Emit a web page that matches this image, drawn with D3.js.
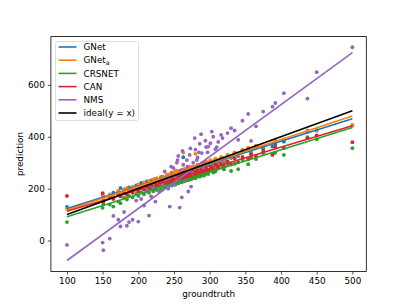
<!DOCTYPE html>
<html>
<head>
<meta charset="utf-8">
<script src="https://cdn.jsdelivr.net/npm/d3@7"></script>
<style>
  body { margin: 0; background: #fff; }
  svg { font-family: "DejaVu Sans", sans-serif; }
</style>
</head>
<body>
<div id="chart"></div>
<script>
// ground truth counts (x)
const groundtruth = [100, 150, 151, 160, 165, 172, 175, 180, 184, 187, 192, 197, 200, 204, 208, 212, 215, 218, 221, 224,
  226, 229, 232, 234, 237, 240, 242, 244, 247, 249, 252, 254, 256, 258, 261, 263, 265, 268, 270, 272,
  274, 277, 280, 283, 286, 289, 292, 295, 298, 301, 305, 308, 312, 316, 320, 325, 330, 335, 340, 346,
  354, 358, 365, 375, 388, 392, 404, 437, 450, 500,
  243, 246, 251, 255, 259, 262, 266, 269, 273, 276, 279, 282, 285, 288, 291, 294, 297, 303, 310, 318];

// predictions of each model, same order as groundtruth
const gnet = [130, 180, 170, 172, 185, 190, 202, 196, 200, 205, 200, 212, 206, 222, 214, 228, 220, 232, 226, 238,
  236, 230, 244, 246, 240, 252, 250, 244, 262, 256, 250, 268, 262, 255, 272, 321, 262, 276, 266, 282,
  270, 284, 275, 290, 280, 296, 285, 300, 292, 306, 296, 312, 300, 318, 308, 326, 318, 336, 325, 345,
  352, 340, 360, 355, 362, 370, 381, 420, 424, 443,
  250, 246, 258, 260, 264, 268, 264, 274, 270, 280, 276, 284, 288, 282, 292, 296, 290, 302, 308, 314];
const gneta = [122, 175, 160, 178, 172, 190, 184, 198, 202, 192, 208, 204, 216, 210, 224, 216, 230, 222, 236, 228,
  240, 232, 246, 244, 238, 254, 250, 256, 248, 262, 270, 254, 266, 258, 272, 339, 276, 266, 282, 270,
  284, 286, 334, 292, 282, 298, 288, 304, 300, 310, 300, 316, 305, 322, 312, 330, 322, 340, 330, 350,
  358, 346, 366, 362, 375, 385, 390, 424, 426, 446,
  252, 248, 260, 262, 266, 270, 272, 276, 280, 282, 278, 288, 292, 286, 296, 298, 294, 306, 312, 318];
const crsnet = [71, 126, 140, 138, 131, 150, 144, 165, 158, 172, 166, 180, 172, 186, 178, 194, 184, 198, 190, 206,
  195, 210, 198, 214, 204, 220, 208, 222, 212, 228, 216, 232, 220, 236, 224, 240, 228, 244, 232, 248,
  236, 250, 240, 256, 246, 262, 250, 268, 256, 272, 262, 266, 282, 292, 274, 294, 268, 296, 275, 312,
  294, 320, 314, 336, 332, 338, 330, 398, 390, 356,
  218, 214, 226, 222, 232, 228, 238, 234, 244, 240, 250, 246, 254, 250, 260, 256, 264, 270, 276, 282];
const can = [172, 183, 150, 166, 160, 178, 170, 185, 176, 192, 184, 198, 190, 204, 196, 212, 202, 216, 206, 222,
  212, 226, 216, 230, 220, 236, 224, 238, 228, 242, 232, 246, 236, 250, 240, 254, 244, 258, 248, 262,
  250, 266, 255, 270, 260, 276, 264, 280, 270, 286, 276, 292, 280, 298, 286, 306, 294, 317, 302, 322,
  314, 332, 324, 346, 330, 360, 356, 395, 405, 379,
  233, 236, 235, 244, 242, 250, 246, 256, 252, 262, 258, 266, 262, 272, 268, 276, 272, 284, 290, 296];
const nms = [-17, -8, -37, 7, 95, 80, 54, 110, 57, 71, 80, 154, 73, 160, 135, 190, 96, 170, 205, 150,
  230, 190, 240, 215, 266, 230, 200, 131, 250, 280, 240, 300, 326, 127, 166, 292, 270, 310, 189, 330,
  208, 300, 350, 320, 373, 337, 300, 360, 362, 375, 400, 352, 380, 407, 300, 414, 433, 424, 388, 462,
  488, 384, 440, 497, 516, 530, 568, 547, 649, 745,
  240, 285, 215, 310, 268, 345, 230, 285, 355, 260, 395, 310, 340, 410, 280, 385, 340, 420, 360, 395];

// fitted lines: prediction at groundtruth 100 and 500
const fitX = [100, 500];
const fitGnet = [123, 469];
const fitGneta = [118, 480];
const fitCrsnet = [92, 436];
const fitCan = [113, 442];
const fitNms = [-77, 724];
const fitIdeal = [100, 500];

const xTicks = [100, 150, 200, 250, 300, 350, 400, 450, 500];
const yTicks = [0, 200, 400, 600];

const models = [
  { name: "GNet", pred: gnet, fit: fitGnet, color: "#1f77b4" },
  { name: "GNeta", pred: gneta, fit: fitGneta, color: "#ff7f0e" },
  { name: "CRSNET", pred: crsnet, fit: fitCrsnet, color: "#2ca02c" },
  { name: "CAN", pred: can, fit: fitCan, color: "#d62728" },
  { name: "NMS", pred: nms, fit: fitNms, color: "#9467bd" },
];

const width = 407;
const height = 305;
const mLeft = 50.9, mRight = 366.3, mTop = 36.6, mBottom = 271.4;

const svg = d3
  .select("#chart")
  .append("svg")
  .attr("width", width)
  .attr("height", height);

const x = d3.scaleLinear().domain([77.5, 519.5]).range([mLeft, mRight]);
const y = d3.scaleLinear().domain([-119, 786]).range([mBottom, mTop]);

const plot = svg.append("g");

//scatter points
models.forEach((m) => {
  plot
    .selectAll(null)
    .data(groundtruth)
    .enter()
    .append("circle")
    .attr("cx", (d) => x(d))
    .attr("cy", (d, i) => y(m.pred[i]))
    .attr("r", 1.9)
    .attr("fill", m.color);
});

//fit lines
const line = d3
  .line()
  .x((d) => x(d[0]))
  .y((d) => y(d[1]));

const lines = models.map((m) => ({ color: m.color, fit: m.fit }));
lines.push({ color: "#000", fit: fitIdeal });
lines.forEach((l) => {
  plot
    .append("path")
    .datum(fitX.map((v, i) => [v, l.fit[i]]))
    .attr("d", line)
    .attr("fill", "none")
    .attr("stroke", l.color)
    .attr("stroke-width", 1.6);
});

//axes
const xAxis = svg
  .append("g")
  .attr("transform", `translate(0,${mBottom})`)
  .call(d3.axisBottom(x).tickValues(xTicks).tickSize(3.1).tickPadding(3));
const yAxis = svg
  .append("g")
  .attr("transform", `translate(${mLeft},0)`)
  .call(d3.axisLeft(y).tickValues(yTicks).tickSize(3.1).tickPadding(3));

[xAxis, yAxis].forEach((a) => {
  a.select(".domain").remove();
  a.selectAll("line").attr("stroke", "#000").attr("stroke-width", 0.7);
  a.selectAll("text")
    .attr("font-family", "DejaVu Sans")
    .attr("font-size", 8.8)
    .attr("fill", "#000");
});

//frame
svg
  .append("rect")
  .attr("x", mLeft)
  .attr("y", mTop)
  .attr("width", mRight - mLeft)
  .attr("height", mBottom - mTop)
  .attr("fill", "none")
  .attr("stroke", "#000")
  .attr("stroke-width", 0.8);

svg
  .append("text")
  .attr("x", (mLeft + mRight) / 2)
  .attr("y", 296.5)
  .attr("text-anchor", "middle")
  .attr("font-size", 8.8)
  .text("groundtruth");

svg
  .append("text")
  .attr("transform", `translate(23,${(mTop + mBottom) / 2}) rotate(-90)`)
  .attr("text-anchor", "middle")
  .attr("font-size", 8.8)
  .text("prediction");

//legend
const legendItems = models.map((m) => ({ name: m.name, color: m.color }));
legendItems.push({ name: "ideal(y = x)", color: "#000" });

const legend = svg.append("g").attr("id", "legend");
legend
  .append("rect")
  .attr("x", 55.5)
  .attr("y", 41.5)
  .attr("width", 83)
  .attr("height", 79)
  .attr("rx", 2)
  .attr("fill", "#fff")
  .attr("fill-opacity", 0.8)
  .attr("stroke", "#d6d6d6")
  .attr("stroke-width", 0.8);

const rowH = 13.2;
legend
  .selectAll("line.item")
  .data(legendItems)
  .enter()
  .append("line")
  .attr("x1", 58.5)
  .attr("x2", 76.5)
  .attr("y1", (d, i) => 47 + i * rowH)
  .attr("y2", (d, i) => 47 + i * rowH)
  .attr("stroke", (d) => d.color)
  .attr("stroke-width", 1.6);

const labels = legend
  .selectAll("text")
  .data(legendItems)
  .enter()
  .append("text")
  .attr("x", 83.5)
  .attr("y", (d, i) => 50.2 + i * rowH)
  .attr("font-size", 8.8);

labels.each(function (d) {
  const t = d3.select(this);
  if (d.name === "GNeta") {
    t.append("tspan").text("GNet");
    t.append("tspan").attr("font-size", 6.2).attr("dy", 1.8).text("a");
  } else {
    t.text(d.name);
  }
});
</script>
</body>
</html>
